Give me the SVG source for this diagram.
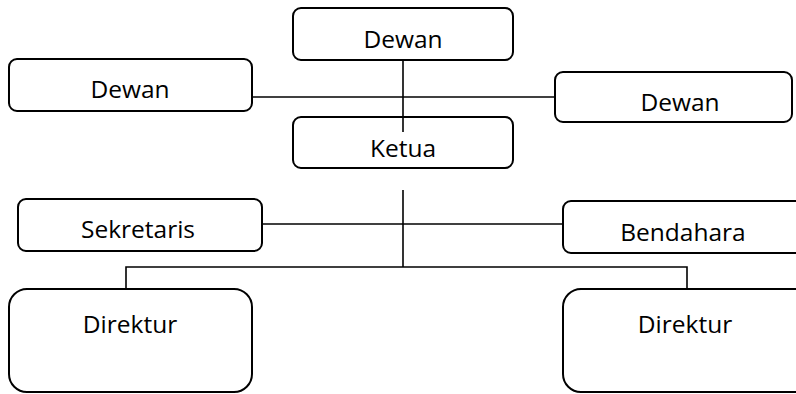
<svg xmlns="http://www.w3.org/2000/svg" width="796" height="394" viewBox="0 0 796 394">
  <style>
    .box { fill: #ffffff; stroke: #000000; stroke-width: 2; }
    .line { fill: none; stroke: #000000; stroke-width: 1.6; }
    .label { font-family: "Open Sans", "Noto Sans", sans-serif; font-size: 24.5px; fill: #000000; text-anchor: middle; }
  </style>
  <rect width="796" height="394" fill="#ffffff"/>

  <g id="dewan-top">
    <rect class="box" x="293" y="8" width="220" height="52" rx="8"/>
    <text class="label" x="403" y="48">Dewan</text>
  </g>
  <g id="dewan-left">
    <rect class="box" x="9" y="59" width="243" height="52" rx="8"/>
    <text class="label" x="130" y="98">Dewan</text>
  </g>
  <g id="dewan-right">
    <rect class="box" x="555" y="72" width="237" height="50" rx="8"/>
    <text class="label" x="680" y="111">Dewan</text>
  </g>
  <g id="ketua">
    <rect class="box" x="293" y="117" width="220" height="51" rx="8"/>
    <text class="label" x="403" y="157">Ketua</text>
  </g>
  <g id="sekretaris">
    <rect class="box" x="18" y="199" width="244" height="52" rx="8"/>
    <text class="label" x="138" y="238">Sekretaris</text>
  </g>
  <g id="bendahara">
    <rect class="box" x="563" y="201" width="250" height="52" rx="8"/>
    <text class="label" x="683" y="241">Bendahara</text>
  </g>
  <g id="direktur-left">
    <rect class="box" x="9" y="289" width="243" height="103" rx="18"/>
    <text class="label" x="130" y="333">Direktur</text>
  </g>
  <g id="direktur-right">
    <rect class="box" x="563" y="289" width="250" height="103" rx="18"/>
    <text class="label" x="685" y="333">Direktur</text>
  </g>

  <!-- connectors, drawn last so the stem from the top box runs into Ketua -->
  <g id="connectors">
    <line class="line" x1="252" y1="97" x2="555" y2="97"/>
    <line class="line" x1="403" y1="60" x2="403" y2="132"/>
    <line class="line" x1="403" y1="190" x2="403" y2="267"/>
    <line class="line" x1="262" y1="224" x2="563" y2="224"/>
    <polyline class="line" points="126,289 126,267 687,267 687,289"/>
  </g>
</svg>
